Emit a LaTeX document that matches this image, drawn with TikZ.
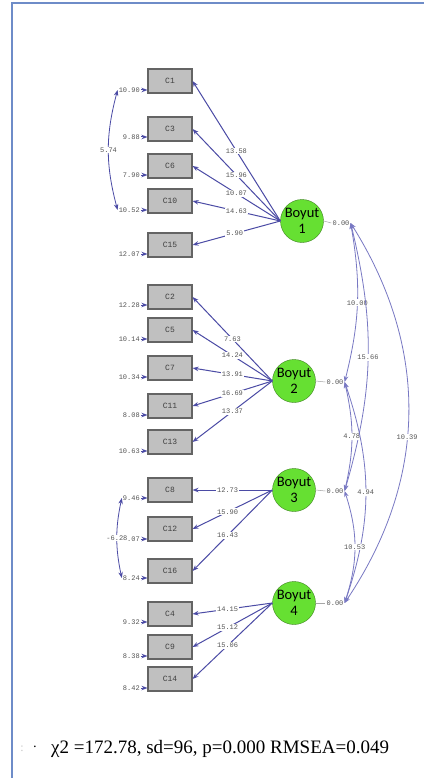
\documentclass[tikz,border=0pt]{standalone}
\usepackage{fontspec}
\setmainfont{Liberation Serif}
\newfontfamily\numfont{Liberation Mono}
\newfontfamily\boyfont{Carlito}
\usetikzlibrary{arrows.meta,calc}
\definecolor{lnk}{RGB}{75,75,165}
\definecolor{cov}{RGB}{120,120,195}
\definecolor{boxfill}{RGB}{192,192,192}
\definecolor{boxline}{RGB}{100,100,100}
\definecolor{grn}{RGB}{102,224,50}
\definecolor{grnline}{RGB}{60,130,30}
\definecolor{framec}{RGB}{110,140,200}
\definecolor{numc}{RGB}{85,85,85}
\begin{document}
\begin{tikzpicture}[x=1pt,y=-1pt,
  obs/.style={draw=boxline,fill=boxfill,line width=1.1pt,minimum width=44pt,minimum height=24pt,inner sep=0pt,text=black!75,font=\numfont\fontsize{8}{9}\selectfont},
  lat/.style={circle,draw=grnline,fill=grn,minimum size=43pt,inner sep=0pt,font=\boyfont\fontsize{14.5}{16}\selectfont,align=center},
  num/.style={font=\numfont\fontsize{7}{8}\selectfont,text=numc,inner sep=1pt},
  lbl/.style={num,fill=white},
  load/.style={draw=lnk,line width=1pt,-{Stealth[length=6pt,width=4.5pt]}},
  err/.style={draw=lnk,line width=1pt,-{Stealth[length=6pt,width=4.5pt]}},
  cv/.style={draw=cov,line width=0.8pt,{Stealth[length=6pt,width=4.5pt]}-{Stealth[length=6pt,width=4.5pt]}},
  vline/.style={draw=gray!70,line width=0.5pt},
]
\useasboundingbox (0,0) rectangle (424,778);
\fill[white] (0,0) rectangle (424,778);
\draw[framec,line width=2pt] (12,778) -- (12,3) -- (424,3);

% observed variables
\foreach \n/\y in {1/81,3/129,6/166,10/201,15/245,2/297,5/330,7/368,11/406,13/442,8/490,12/529,16/571,4/614,9/647,14/679}
  \node[obs] (c\n) at (170,\y) {C\n};

% latent variables
\node[lat] (f1) at (302,221) {Boyut\\1};
\node[lat] (f2) at (294,381) {Boyut\\2};
\node[lat] (f3) at (294,490) {Boyut\\3};
\node[lat] (f4) at (294,603) {Boyut\\4};

% error variances
\foreach \n/\y/\v in {1/90/10.90,3/137/9.88,6/175/7.90,10/210/10.52,15/254/12.07,2/305/12.28,5/339/10.14,7/377/10.34,11/415/8.08,13/451/10.63,8/498/9.46,12/539/.07,16/578/8.24,4/622/9.32,9/656/8.38,14/688/8.42}{
  \node[num,anchor=east] (e\n) at (141,\y) {\v};
  \draw[err] (e\n.east) -- (c\n.west |- e\n.east);
}

% loadings
\foreach \f/\n/\v/\p in {1/1/13.58/.5,1/3/15.96/.5,1/6/10.07/.5,1/10/14.63/.5,1/15/5.90/.52,
  2/2/7.63/.5,2/5/14.24/.5,2/7/13.91/.5,2/11/16.69/.5,2/13/13.37/.5,
  3/8/12.73/.56,3/12/15.90/.56,3/16/16.43/.56,
  4/4/14.15/.56,4/9/15.12/.56,4/14/15.06/.56}
  \draw[load] (f\f.west) -- node[lbl,pos=\p]{\v} (c\n.east);

% factor variances
\node[num] (v1) at (341,223) {0.00};
\node[num] (v2) at (335,382) {0.00};
\node[num] (v3) at (335,491) {0.00};
\node[num] (v4) at (335,603) {0.00};
\foreach \i in {1,2,3,4} \draw[vline] (f\i.east) -- (v\i.west);

% factor covariances
\draw[cv] (v1.east) to[bend left=12] node[lbl]{10.00} (v2.east);
\draw[cv] (v1.east) to[bend left=15] node[lbl]{15.66} (v3.east);
\draw[cv] (v1.east) to[bend left=33] node[lbl,pos=.56]{10.39} (v4.east);
\draw[cv] (v2.east) to[bend left=13] node[lbl]{4.78} (v3.east);
\draw[cv] (v2.east) to[bend left=19] node[lbl]{4.94} (v4.east);
\draw[cv] (v3.east) to[bend left=18] node[lbl]{10.53} (v4.east);

% error covariances
\draw[cv,draw=lnk] (e1.west) to[bend right=15] node[lbl]{5.74} (e10.west);
\draw[cv,draw=lnk] (e8.west) to[bend right=12] node[lbl]{-6.28} (e16.west);

% fit statistics
\node[text=gray!45,font=\fontsize{12}{14}\selectfont] (colon) at (22,749) {:};
\node[font=\fontsize{14}{16}\selectfont] (bul) at (35,749) {·};
\node[anchor=west,inner sep=0pt,font=\fontsize{19}{21}\selectfont] (fit) at (51,749) {χ2 =172.78, sd=96, p=0.000 RMSEA=0.049};
\end{tikzpicture}
\end{document}
